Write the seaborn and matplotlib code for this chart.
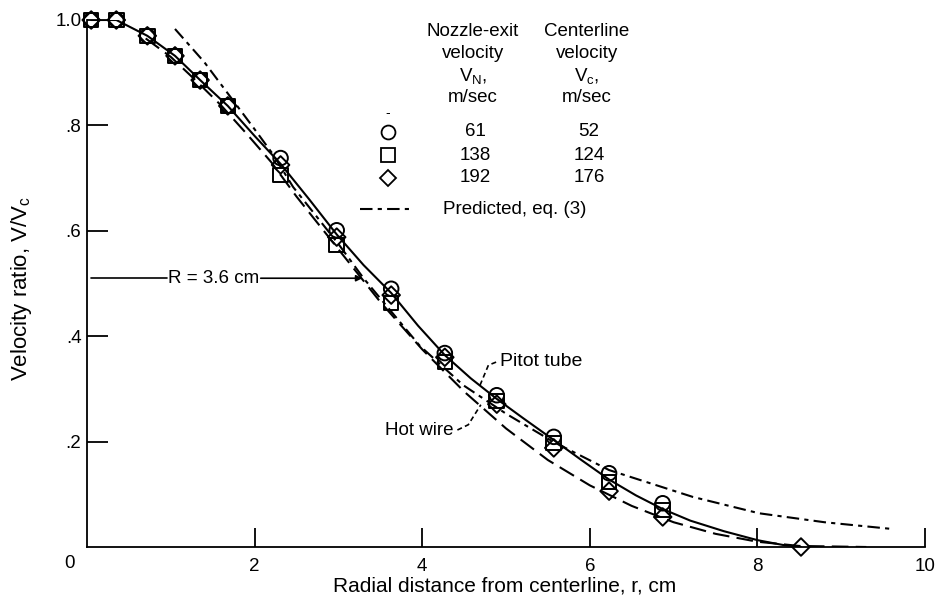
import numpy as np
import pandas as pd
import matplotlib
matplotlib.use("Agg")
import matplotlib.pyplot as plt
from matplotlib.lines import Line2D
from matplotlib import font_manager
import seaborn as sns

# Measured velocity ratios (pitot tube) at each radial station, cm
radius = [0.05, 0.35, 0.72, 1.05, 1.35, 1.68, 2.31, 2.98, 3.63, 4.27, 4.89, 5.57, 6.23, 6.87, 8.52]
ratio_61 = [1.0, 1.0, 0.970, 0.932, 0.886, 0.837, 0.738, 0.601, 0.490, 0.368, 0.288, 0.209, 0.140, 0.083, np.nan]
ratio_138 = [1.0, 1.0, 0.970, 0.932, 0.886, 0.837, 0.706, 0.573, 0.463, 0.351, 0.277, 0.197, 0.123, 0.070, np.nan]
ratio_192 = [1.0, 1.0, 0.970, 0.932, 0.886, 0.837, 0.725, 0.588, 0.478, 0.360, 0.271, 0.188, 0.106, 0.057, 0.0]

# Faired curves
pitot_r = [0.05, 0.35, 0.72, 1.05, 1.35, 1.68, 2.0, 2.31, 2.65, 2.98, 3.3, 3.63, 3.95, 4.27, 4.58,
           4.89, 5.2, 5.57, 5.9, 6.23, 6.55, 6.87, 7.2, 7.6, 8.0, 8.3, 8.52]
pitot_v = [1.0, 1.0, 0.970, 0.932, 0.886, 0.837, 0.780, 0.727, 0.660, 0.593, 0.535, 0.482, 0.420, 0.364, 0.320,
           0.281, 0.245, 0.203, 0.165, 0.128, 0.098, 0.072, 0.050, 0.030, 0.013, 0.004, 0.0]

hotwire_r = [0.70, 1.0, 1.3, 1.6, 1.9, 2.2, 2.5, 3.0, 3.5, 4.0, 4.5, 5.0, 5.5, 6.0, 6.5, 7.0, 7.5, 8.0, 8.5, 9.3]
hotwire_v = [0.965, 0.930, 0.885, 0.838, 0.785, 0.730, 0.665, 0.565, 0.465, 0.375, 0.295, 0.225, 0.165, 0.117,
             0.078, 0.047, 0.025, 0.010, 0.002, 0.0]

predicted_r = [1.05, 1.4, 1.74, 1.98, 2.22, 2.46, 3.0, 3.3, 3.97, 4.49, 5.0, 5.56, 6.23, 7.23, 8.02, 8.8, 9.62]
predicted_v = [0.983, 0.920, 0.848, 0.797, 0.745, 0.683, 0.575, 0.510, 0.382, 0.307, 0.253, 0.200, 0.146,
               0.095, 0.064, 0.047, 0.034]

nozzle_exit = ["61", "138", "192"]
centerline = ["52", "124", "176"]

sns.set_style("ticks")
installed = {f.name for f in font_manager.fontManager.ttflist}
FONT = [f for f in ["Liberation Sans Narrow", "DejaVu Sans Condensed", "Liberation Sans", "DejaVu Sans"]
        if f in installed]
plt.rcParams["font.family"] = FONT
plt.rcParams["mathtext.default"] = "regular"
plt.rcParams["text.color"] = "black"
plt.rcParams["axes.labelcolor"] = "black"
plt.rcParams["xtick.color"] = "black"
plt.rcParams["ytick.color"] = "black"

W, H = 937, 600
fig = plt.figure(figsize=(W / 100, H / 100), dpi=100)
ax = fig.add_axes([87 / W, 1 - 547 / H, (925 - 87) / W, (547 - 20) / H])


def fx(px):
    return px / W


def fy(py):
    return 1 - py / H


lw = 1.5
sns.lineplot(x=pitot_r, y=pitot_v, ax=ax, color="black", lw=lw, sort=False, estimator=None)
sns.lineplot(x=hotwire_r, y=hotwire_v, ax=ax, color="black", lw=lw, sort=False, estimator=None)
ax.lines[-1].set_dashes((8, 3.5))
sns.lineplot(x=predicted_r, y=predicted_v, ax=ax, color="black", lw=lw, sort=False, estimator=None)
ax.lines[-1].set_dashes((6, 2.5, 2, 2.5))

for vals, mk in [(ratio_61, "o"), (ratio_138, "s"), (ratio_192, "D")]:
    df = pd.DataFrame({"r": radius, "v": vals}).dropna()
    sns.scatterplot(data=df, x="r", y="v", marker=mk, ax=ax, s=80 if mk == "D" else 110,
                    facecolors="none", edgecolor="black", linewidth=1.4, clip_on=False, zorder=5)

ax.set_xlim(0, 10)
ax.set_ylim(0, 1.0)
ax.set_xticks([2, 4, 6, 8, 10])
ax.set_xticklabels(["2", "4", "6", "8", "10"])
ax.set_yticks([0.2, 0.4, 0.6, 0.8, 1.0])
ax.set_yticklabels([".2", ".4", ".6", ".8", "1.0"])
ax.tick_params(axis="x", direction="in", length=14, width=1.3, pad=8, labelsize=13.5)
ax.tick_params(axis="y", direction="in", length=15, width=1.3, pad=4, labelsize=13.5)
for s in ["top", "right"]:
    ax.spines[s].set_visible(False)
for s in ["left", "bottom"]:
    ax.spines[s].set_linewidth(1.3)
    ax.spines[s].set_color("black")

ax.set_xlabel("")
ax.set_ylabel("")
fig.text(fx(505), fy(586), "Radial distance from centerline, r, cm", fontsize=15, ha="center", va="center")
fig.text(fx(22), fy(288), "Velocity ratio, V/V$_c$", fontsize=16, ha="center", va="center", rotation=90)
fig.text(fx(70), fy(563), "0", fontsize=13.5, ha="center", va="center")

fs = 13.5
# R = 3.6 cm marker
ax.plot([0.05, 0.95], [0.51, 0.51], color="black", lw=1.2)
ax.text(0.97, 0.51, "R = 3.6 cm", fontsize=fs, ha="left", va="center")
ax.annotate("", xy=(3.32, 0.51), xytext=(2.04, 0.51),
            arrowprops=dict(arrowstyle="-|>", color="black", lw=1.2, mutation_scale=9))

# Curve labels with dashed leaders
ax.plot([4.69, 4.79, 4.90], [0.307, 0.345, 0.352], color="black", lw=1.2, dashes=(3, 2))
ax.text(4.93, 0.352, "Pitot tube", fontsize=14, ha="left", va="center")
ax.plot([4.42, 4.55, 4.70], [0.222, 0.232, 0.270], color="black", lw=1.2, dashes=(3, 2))
ax.text(4.37, 0.222, "Hot wire", fontsize=fs, ha="right", va="center")

# Symbol key
col1, col2 = 473, 587
for py, t1, t2 in [(31, "Nozzle-exit", "Centerline"), (54, "velocity", "velocity"),
                   (76, "V$_N$,", "V$_c$,"), (98, "m/sec", "m/sec")]:
    fig.text(fx(col1), fy(py), t1, fontsize=fs, ha="center", va="center")
    fig.text(fx(col2), fy(py), t2, fontsize=fs, ha="center", va="center")
fig.text(fx(388), fy(113), "-", fontsize=10, ha="center", va="center")
for py, mk, ms, a, b in [(132, "o", 10, nozzle_exit[0], centerline[0]),
                         (155, "s", 10, nozzle_exit[1], centerline[1]),
                         (178, "D", 8.5, nozzle_exit[2], centerline[2])]:
    fig.add_artist(Line2D([fx(388)], [fy(py)], transform=fig.transFigure, marker=mk, ms=ms,
                          mfc="none", mec="black", mew=1.3, ls="none"))
    fig.text(fx(col1 + 2), fy(py), a, fontsize=fs, ha="center", va="center")
    fig.text(fx(col2 + 2), fy(py), b, fontsize=fs, ha="center", va="center")
key = Line2D([fx(360), fx(414)], [fy(209), fy(209)], transform=fig.transFigure, color="black", lw=lw)
key.set_dashes((6, 2.5, 2, 2.5))
fig.add_artist(key)
fig.text(fx(443), fy(209), "Predicted, eq. (3)", fontsize=fs, ha="left", va="center")

fig.savefig("out.png", dpi=100, facecolor="white")
